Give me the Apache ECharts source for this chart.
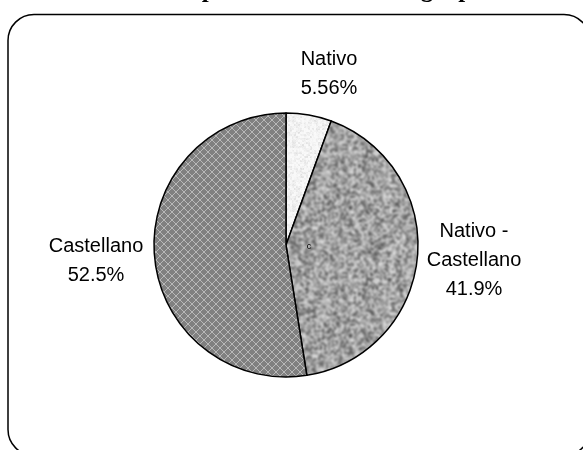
<!DOCTYPE html>
<html>
<head>
<meta charset="utf-8">
<script src="https://cdn.jsdelivr.net/npm/echarts@6/dist/echarts.min.js"></script>
<style>
  html, body { margin: 0; padding: 0; background: #ffffff; }
  #chart { width: 583px; height: 450px; }
</style>
</head>
<body>
<div id="chart"></div>
<script>
// Language spoken by the head of household, share per group
const categories = ['Nativo', 'Nativo - Castellano', 'Castellano'];
const shares = [5.56, 41.9, 52.5];
const titleText = 'Idioma del padre de familia del grupo';

// deterministic hash used to build the stone-like fill textures
function hash(x, y, seed) {
  let h = Math.imul(x, 374761393) + Math.imul(y, 668265263) + Math.imul(seed, 1442695041);
  h = Math.imul(h ^ (h >>> 13), 1274126177);
  h = h ^ (h >>> 16);
  return (h >>> 0) / 4294967295;
}

function noiseTexture(size, cell, seed, light, dark, power, blur) {
  const raw = document.createElement('canvas');
  raw.width = raw.height = size;
  const ctx = raw.getContext('2d');
  const img = ctx.createImageData(size, size);
  const cells = size / cell;
  for (let y = 0; y < size; y++) {
    for (let x = 0; x < size; x++) {
      const cx = Math.floor(x / cell) % cells, cy = Math.floor(y / cell) % cells;
      const n = 0.7 * hash(cx, cy, seed) + 0.3 * hash(x, y, seed + 7);
      const g = Math.round(light - (light - dark) * Math.pow(n, power));
      const i = (y * size + x) * 4;
      img.data[i] = img.data[i + 1] = img.data[i + 2] = g;
      img.data[i + 3] = 255;
    }
  }
  ctx.putImageData(img, 0, 0);
  // tile 3x3 first, then soften the whole block so tile edges wrap cleanly
  const tiled = document.createElement('canvas');
  tiled.width = tiled.height = size * 3;
  const tctx = tiled.getContext('2d');
  for (let i = 0; i < 3; i++) for (let j = 0; j < 3; j++) tctx.drawImage(raw, i * size, j * size);
  const soft = document.createElement('canvas');
  soft.width = soft.height = size * 3;
  const sctx = soft.getContext('2d');
  sctx.filter = 'blur(' + blur + 'px)';
  sctx.drawImage(tiled, 0, 0);
  const out = document.createElement('canvas');
  out.width = out.height = size;
  out.getContext('2d').drawImage(soft, size, size, size, size, 0, 0, size, size);
  return out;
}

// light 1px diagonal lattice on mid grey
function crossHatch() {
  const n = 8;
  const c = document.createElement('canvas');
  c.width = c.height = n;
  const ctx = c.getContext('2d');
  const img = ctx.createImageData(n, n);
  for (let y = 0; y < n; y++) {
    for (let x = 0; x < n; x++) {
      const onLine = (x === y) || (x + y === n - 1);
      const g = onLine ? 184 : 128;
      const i = (y * n + x) * 4;
      img.data[i] = img.data[i + 1] = img.data[i + 2] = g;
      img.data[i + 3] = 255;
    }
  }
  ctx.putImageData(img, 0, 0);
  return c;
}

const fills = [
  { image: noiseTexture(64, 2, 3, 250, 222, 2.2, 0.7), repeat: 'repeat' },
  { image: noiseTexture(128, 2, 11, 232, 45, 1.5, 0.8), repeat: 'repeat' },
  { image: crossHatch(), repeat: 'repeat' }
];

// label anchor points (centre of each text block)
const labelAnchors = [[329, 74], [474, 260], [96, 261]];

const chart = echarts.init(document.getElementById('chart'), null, { renderer: 'canvas' });

chart.setOption({
  backgroundColor: '#ffffff',
  animation: false,
  graphic: [
    {
      type: 'rect',
      shape: { x: 8, y: 14.5, width: 582, height: 441, r: 26 },
      style: { fill: 'none', stroke: '#000000', lineWidth: 1.5 },
      z: 1
    },
    {
      type: 'text',
      x: 81,
      y: -9,
      style: {
        text: titleText,
        font: 'bold 25px "Liberation Serif", "Times New Roman", serif',
        fill: '#000000',
        align: 'left',
        verticalAlign: 'middle'
      },
      z: 5
    },
    {
      type: 'text',
      x: 309,
      y: 247,
      style: {
        text: 'c',
        font: '9px "Liberation Sans", Arial, sans-serif',
        fill: '#000000',
        align: 'center',
        verticalAlign: 'middle'
      },
      z: 20
    }
  ],
  series: [
    {
      type: 'pie',
      center: [286, 245],
      radius: 132,
      startAngle: 90,
      clockwise: true,
      avoidLabelOverlap: false,
      itemStyle: { borderColor: '#000000', borderWidth: 1.5 },
      emphasis: { disabled: true },
      label: {
        show: true,
        position: 'outside',
        color: '#000000',
        fontFamily: '"Liberation Sans", Arial, sans-serif',
        fontSize: 20,
        lineHeight: 29,
        align: 'center',
        formatter: function (p) {
          return p.name.replace(' - ', ' -\n') + '\n' + p.value + '%';
        }
      },
      labelLine: { show: false },
      labelLayout: function (p) {
        const a = labelAnchors[p.dataIndex];
        return { x: a[0], y: a[1], align: 'center', verticalAlign: 'middle' };
      },
      data: categories.map(function (name, i) {
        return { name: name, value: shares[i], itemStyle: { color: fills[i] } };
      })
    }
  ]
});
</script>
</body>
</html>
